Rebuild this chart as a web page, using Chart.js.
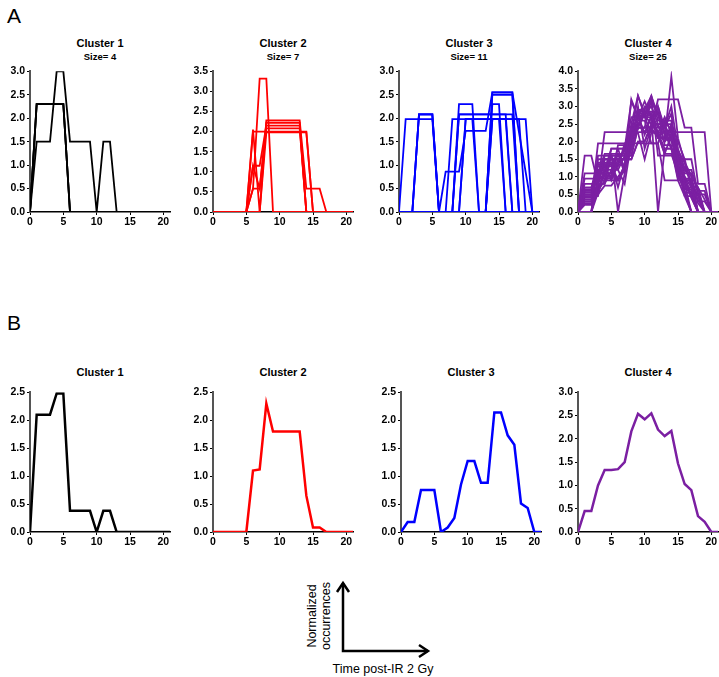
<!DOCTYPE html>
<html><head><meta charset="utf-8">
<script src="https://cdn.jsdelivr.net/npm/chart.js@4.4.0/dist/chart.umd.min.js"></script>
<style>
html,body{margin:0;padding:0;background:#fff;width:719px;height:677px;overflow:hidden;position:relative;font-family:"Liberation Sans",Arial,Helvetica,sans-serif;}
canvas{position:absolute;}
.t{position:absolute;transform:translate(-50%,-50%);white-space:nowrap;color:#000;line-height:1;}
.title{font-size:11px;font-weight:bold;}
.size{font-size:9.5px;font-weight:bold;}
.panel{position:absolute;font-size:21px;color:#000;line-height:1;}
</style></head><body>
<div class="panel" style="left:7px;top:5px;">A</div>
<div class="panel" style="left:7px;top:312px;">B</div>
<svg style="position:absolute;left:0;top:0" width="719" height="677">
<path d="M343,583 L343,651 L428,651" stroke="#000" stroke-width="2.5" fill="none"/>
<path d="M337,592 L343,583 L349,592" stroke="#000" stroke-width="2.5" fill="none"/>
<path d="M419,645 L428,651 L419,657" stroke="#000" stroke-width="2.5" fill="none"/>
</svg>
<div class="t" style="left:319px;top:616px;transform:translate(-50%,-50%) rotate(-90deg);font-size:12.5px;line-height:13.5px;text-align:center;">Normalized<br>occurrences</div>
<div class="t" style="left:383px;top:669px;font-size:12.5px;">Time post-IR 2 Gy</div>
<script>
// ---------- data ----------
const days = [0,1,2,3,4,5,6,7,8,9,10,11,12,13,14,15,16,17,18,19,20,21];
const xTicks = [0,5,10,15,20];
const clusterTitles = ['Cluster 1','Cluster 2','Cluster 3','Cluster 4'];
const clusterSizes = ['Size= 4','Size= 7','Size= 11','Size= 25'];
const clusterColors = ['#000000','#ff0000','#0000ff','#7b1fa2'];
const yMaxA = [3.0,3.5,3.0,4.0];
const yMaxB = [2.5,2.5,2.5,3.0];

const cluster1Lines = [
 [0,2.3,2.3,2.3,2.3,2.3,0,0,0,0,0,0,0,0,0,0,0,0,0,0,0,0],
 [0,2.3,2.3,2.3,2.3,2.3,0,0,0,0,0,0,0,0,0,0,0,0,0,0,0,0],
 [0,2.3,2.3,2.3,2.3,2.3,0,0,0,0,0,0,0,0,0,0,0,0,0,0,0,0],
 [0,1.5,1.5,1.5,3.0,3.0,1.5,1.5,1.5,1.5,0,1.5,1.5,0,0,0,0,0,0,0,0,0]
];
const cluster2Lines = [
 [0,0,0,0,0,0,0.58,3.32,3.32,0,0,0,0,0,0,0,0,0,0,0,0,0],
 [0,0,0,0,0,0,2.0,2.0,2.0,2.0,2.0,2.0,2.0,2.0,2.0,0,0,0,0,0,0,0],
 [0,0,0,0,0,0,2.05,0,2.28,2.28,2.28,2.28,2.28,2.28,0.58,0.58,0.58,0,0,0,0,0],
 [0,0,0,0,0,0,1.15,0.58,2.22,2.22,2.22,2.22,2.22,2.22,0,0,0,0,0,0,0,0],
 [0,0,0,0,0,0,1.15,1.15,2.15,2.15,2.15,2.15,2.15,2.15,0,0,0,0,0,0,0,0],
 [0,0,0,0,0,0,0.58,0.58,2.08,2.08,2.08,2.08,2.08,2.08,0,0,0,0,0,0,0,0],
 [0,0,0,0,0,0,0,0,1.98,1.98,1.98,1.98,1.98,1.98,1.98,0,0,0,0,0,0,0]
];
const cluster3Lines = [
 [0,1.98,1.98,1.98,1.98,1.98,0,0,0,0,0,0,0,0,2.55,2.55,2.55,2.55,1.7,0.85,0,0],
 [0,0,0,2.08,2.08,2.08,0,0,0,0,0,0,0,0,2.5,2.5,2.5,2.5,0,0,0,0],
 [0,0,0,2.08,2.08,2.08,0,0,0,0,0,0,0,0,2.3,2.3,0,0,0,0,0,0],
 [0,0,0,2.08,2.08,2.08,0,0,0,0,0,0,0,0,1.98,1.98,1.98,1.98,1.98,0,0,0],
 [0,0,0,0,0,0,0,0.86,0.86,0.86,1.73,1.73,1.73,1.73,2.55,2.55,2.55,2.55,0,0,0,0],
 [0,0,0,0,0,0,0,0,1.98,1.98,1.98,1.98,1.98,1.98,1.98,1.98,1.98,1.98,1.98,1.98,0,0],
 [0,0,0,0,0,0,0,0,0,2.3,2.3,2.3,0,0,0,0,0,0,0,0,0,0],
 [0,0,0,0,0,0,0,0,0,2.08,2.08,2.08,2.08,2.08,2.08,2.08,2.08,2.08,0,0,0,0],
 [0,0,0,0,0,0,0,0,0,2.08,2.08,2.08,2.08,2.08,2.08,2.08,2.08,0,0,0,0,0],
 [0,0,0,0,0,0,0,0,0,0,1.98,1.98,0,0,1.98,1.98,0,0,0,0,0,0],
 [0,0,0,0,0,0,0,0,0,0,1.98,1.98,1.98,1.98,1.98,1.98,1.98,0,0,0,0,0]
];
const cluster4Lines = [
 [0,0.5,0.5,1.0,1.0,1.0,1.5,1.5,2.5,3.3,2.8,3.0,2.5,2.0,2.2,1.5,1.0,0.7,0,0,0,0],
 [0,1.6,1.6,0.8,0.8,1.2,1.2,1.6,2.4,2.9,2.9,3.3,2.6,2.6,2.3,1.0,0.7,0.7,0.35,0,0,0],
 [0,0.3,0.3,1.95,1.95,1.95,1.95,1.95,1.95,1.95,1.95,1.95,1.95,0.9,0.9,0.9,0.45,0,0,0,0,0],
 [0,0,0,0.8,2.27,2.27,2.27,2.27,2.27,2.27,2.27,2.27,2.27,2.27,2.27,2.27,2.27,2.27,2.27,2.27,0,0],
 [0,0.7,0.7,1.4,1.4,1.4,0.7,1.4,2.1,2.8,2.8,2.8,2.1,2.1,3.85,2.1,1.4,0.7,0.7,0,0,0],
 [0,0.45,0.45,0.45,1.35,1.35,1.35,1.35,3.2,2.7,2.7,2.25,2.25,1.8,1.8,1.35,0.45,0.45,0,0,0,0],
 [0,1.1,1.1,1.1,1.65,1.65,0,1.1,2.2,3.3,2.75,2.75,2.2,1.65,1.65,1.1,0.55,0,0,0,0,0],
 [0,0,0,0.9,0.9,1.8,1.8,1.8,2.7,2.7,2.7,2.7,0,1.8,1.8,0.9,0.9,0.9,0,0,0,0],
 [0,0.6,0.6,0.6,1.2,1.2,1.8,1.8,2.4,2.4,3.0,3.0,3.0,2.4,1.8,1.2,0.6,0,0,0,0,0],
 [0,0.8,0.8,0.8,0.8,1.6,1.6,1.6,1.6,2.4,2.4,2.4,3.2,3.2,3.2,3.2,2.4,2.4,0.8,0.8,0,0],
 [0,0,0,1.5,1.5,1.5,1.5,1.5,1.5,2.0,2.0,2.5,2.5,2.5,2.0,1.5,1.0,0.5,0.5,0,0,0],
 [0,0.35,0.35,0.7,1.05,1.05,1.4,1.75,2.1,2.45,2.8,3.15,2.8,2.45,2.1,1.75,1.4,1.05,0.7,0.35,0,0],
 [0,0.95,0.95,0.95,0.95,0.95,1.9,1.9,1.9,2.85,2.85,2.85,2.85,1.9,1.9,0.95,0.95,0.95,0,0,0,0],
 [0,0.6,0.6,1.2,1.2,1.8,1.8,1.2,1.8,3.0,1.8,2.4,2.4,2.4,3.0,1.8,1.2,1.2,0.6,0.6,0,0],
 [0,0.25,0.25,0.5,0.75,0.75,1.0,1.25,2.0,2.5,2.75,2.5,2.25,2.0,2.5,1.75,1.25,1.0,0.25,0,0,0],
 [0,0,0,1.6,1.6,1.6,1.6,1.6,1.6,2.4,2.4,3.2,1.6,1.6,1.6,1.6,0.8,0,0,0,0,0],
 [0,0.4,0.4,0.8,1.6,1.6,1.2,0.8,2.0,2.4,2.8,2.8,2.4,2.4,2.8,1.2,0.8,0.4,0,0,0,0],
 [0,0.5,0.5,1.0,1.5,1.5,1.5,1.5,1.5,2.0,2.0,2.5,2.5,2.5,2.5,2.0,1.5,1.5,0.5,0.5,0,0],
 [0,0.2,0.2,0.9,1.35,0.9,1.35,1.8,3.15,2.7,2.25,2.7,2.25,2.7,2.25,1.35,0.9,0.45,0,0,0,0],
 [0,0,0,0.55,1.1,1.1,1.65,1.65,2.2,2.75,2.75,3.3,2.75,2.2,2.2,1.65,1.1,1.1,0.55,0,0,0],
 [0,0.65,0.65,1.3,1.3,1.3,1.3,1.95,1.95,2.6,2.6,1.95,1.95,2.6,2.6,1.3,0.65,0.65,0,0,0,0],
 [0,0.3,0.3,0.6,0.9,0.9,0.9,1.2,1.8,2.4,2.4,2.4,2.1,2.1,2.4,1.5,1.2,0.9,0.3,0.3,0,0],
 [0,0,0,0.75,1.5,1.5,1.5,1.5,2.25,2.25,1.5,2.25,3.0,2.25,2.25,1.5,1.5,0.75,0,0,0,0],
 [0,0.45,0.45,1.35,1.35,1.35,0.9,1.35,2.25,2.7,3.15,2.7,2.25,2.25,1.8,1.35,0.9,0.9,0.45,0,0,0],
 [0,0.55,0.55,1.1,1.1,1.65,1.65,1.1,2.2,2.75,2.2,2.75,2.2,1.65,2.2,1.1,0.55,0.55,0,0,0,0]
];

const cluster1Mean = [0,2.1,2.1,2.1,2.48,2.48,0.38,0.38,0.38,0.38,0,0.38,0.38,0,0,0,0,0,0,0,0,0];
const cluster2Mean = [0,0,0,0,0,0,1.1,1.12,2.3,1.8,1.8,1.8,1.8,1.8,0.65,0.08,0.08,0,0,0,0,0];
const cluster3Mean = [0,0.18,0.18,0.75,0.75,0.75,0,0.08,0.25,0.85,1.27,1.27,0.88,0.88,2.14,2.14,1.73,1.56,0.51,0.43,0,0];
const cluster4Mean = [0,0.45,0.45,1.0,1.33,1.33,1.35,1.5,2.16,2.54,2.42,2.55,2.2,2.06,2.17,1.47,1.03,0.9,0.34,0.22,0,0];

// ---------- layout ----------
const axisXA = [30,213,399,578];
const axisXB = [30,213,401,578];
const unitPx = 6.67;
const topA = 71, bottomA = 212;
const topB = 392, bottomB = 532;

const FONT = '"Liberation Sans", Arial, Helvetica, sans-serif';

function addText(cls, txt, x, y) {
  const d = document.createElement('div');
  d.className = 't ' + cls;
  d.textContent = txt;
  d.style.left = x + 'px';
  d.style.top = y + 'px';
  document.body.appendChild(d);
}

function makePanel(axisX, topY, bottomY, series, color, yMax, lw) {
  const YW = 30, XH = 20, PT = 8, PR = 6;
  const plotW = unitPx * 21;
  const w = Math.round(plotW + YW + PR);
  const h = (bottomY - topY) + PT + XH;
  const c = document.createElement('canvas');
  c.width = w; c.height = h;
  c.style.left = (axisX - YW) + 'px';
  c.style.top = (topY - PT) + 'px';
  c.style.width = w + 'px'; c.style.height = h + 'px';
  document.body.appendChild(c);
  new Chart(c, {
    type: 'line',
    data: {
      datasets: series.map(s => ({
        data: days.map((d, i) => ({x: d, y: s[i]})),
        borderColor: color, borderWidth: lw, pointRadius: 0,
        tension: 0, fill: false, borderJoinStyle: 'miter'
      }))
    },
    options: {
      responsive: false, animation: false, devicePixelRatio: 1,
      layout: {padding: {top: PT, right: PR, left: 0, bottom: 0}},
      plugins: {legend: {display: false}, tooltip: {enabled: false}, title: {display: false}},
      scales: {
        x: {
          type: 'linear', min: 0, max: 21,
          afterFit: s => { s.height = XH; },
          afterBuildTicks: s => { s.ticks = xTicks.map(v => ({value: v})); },
          ticks: {font: {family: FONT, size: 10.5, weight: 'bold'}, color: '#000', padding: 1, maxRotation: 0},
          grid: {display: true, drawOnChartArea: false, drawTicks: true, tickLength: 3, color: '#000', lineWidth: 1},
          border: {display: true, color: '#000', width: 1.5}
        },
        y: {
          min: 0, max: yMax,
          afterFit: s => { s.width = YW; },
          ticks: {stepSize: 0.5, callback: v => v.toFixed(1), font: {family: FONT, size: 10.5, weight: 'bold'}, color: '#000', padding: 2},
          grid: {display: true, drawOnChartArea: false, drawTicks: true, tickLength: 3, color: '#000', lineWidth: 1},
          border: {display: true, color: '#555', width: 2}
        }
      }
    }
  });
}

const linesA = [cluster1Lines, cluster2Lines, cluster3Lines, cluster4Lines];
const meansB = [cluster1Mean, cluster2Mean, cluster3Mean, cluster4Mean];

for (let k = 0; k < 4; k++) {
  makePanel(axisXA[k], topA, bottomA, linesA[k], clusterColors[k], yMaxA[k], 1.8);
  addText('title', clusterTitles[k], axisXA[k] + 70, 43);
  addText('size', clusterSizes[k], axisXA[k] + 70, 57);
  makePanel(axisXB[k], topB, bottomB, [meansB[k]], clusterColors[k], yMaxB[k], 2.5);
  addText('title', clusterTitles[k], axisXB[k] + 70, 372);
}
</script>
</body></html>
